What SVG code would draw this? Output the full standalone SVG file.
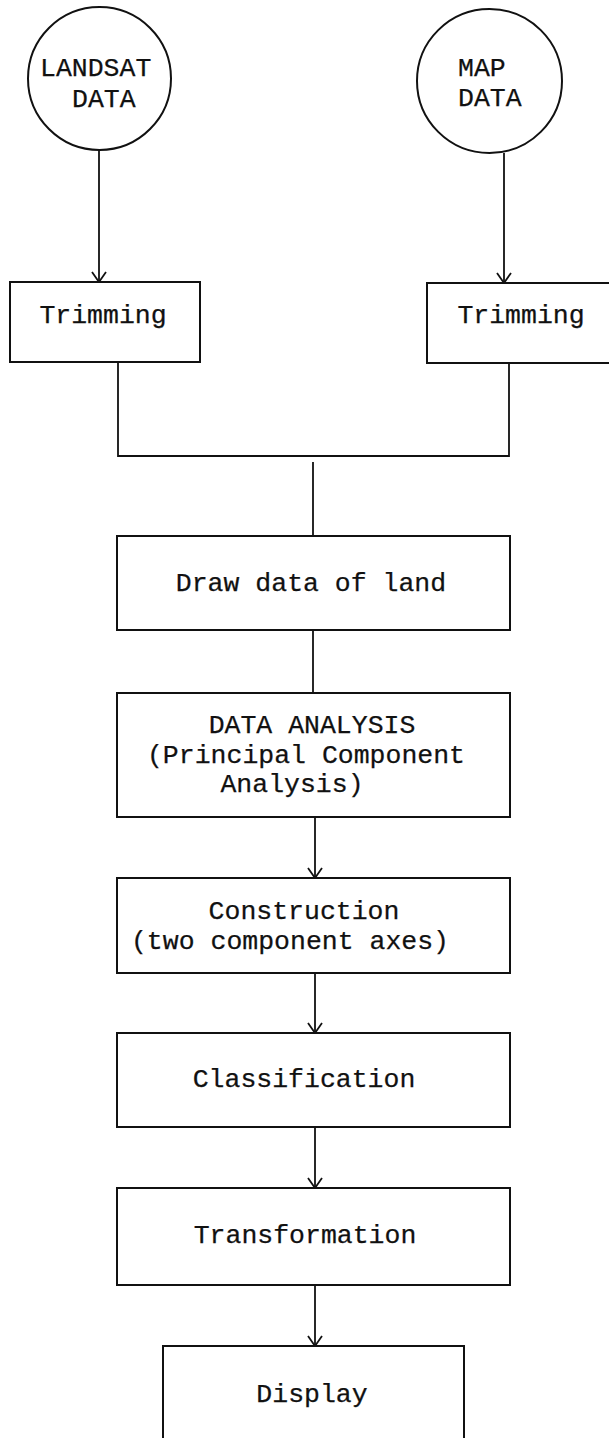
<svg xmlns="http://www.w3.org/2000/svg" width="609" height="1438" viewBox="0 0 609 1438">
  <style>
    .shape { fill: #fff; stroke: #111; stroke-width: 2; }
    .wire { fill: none; stroke: #111; stroke-width: 1.8; }
    .label { font-family: "Liberation Mono", "Courier New", monospace; font-size: 26.5px; fill: #111; stroke: #111; stroke-width: 0.25; text-anchor: middle; }
    .left { text-anchor: start; }
  </style>
  <defs>
    <!-- open V arrowhead; drawn along +x so orient="auto" points it down the line -->
    <marker id="arrow" viewBox="0 0 12 16" refX="11" refY="8" markerWidth="12" markerHeight="16" markerUnits="userSpaceOnUse" orient="auto">
      <path d="M1,1 L11,8 L1,15" fill="none" stroke="#111" stroke-width="1.8"/>
    </marker>
  </defs>
  <rect width="609" height="1438" fill="#fff"/>

  <!-- connectors -->
  <g id="connectors">
    <line class="wire" x1="99" y1="150" x2="99" y2="282" marker-end="url(#arrow)"/>
    <line class="wire" x1="504" y1="153" x2="504" y2="283" marker-end="url(#arrow)"/>
    <polyline class="wire" points="118,362 118,456 509,456 509,363"/>
    <line class="wire" x1="313" y1="462" x2="313" y2="536"/>
    <line class="wire" x1="313" y1="630" x2="313" y2="693"/>
    <line class="wire" x1="315" y1="817" x2="315" y2="878" marker-end="url(#arrow)"/>
    <line class="wire" x1="315" y1="973" x2="315" y2="1033" marker-end="url(#arrow)"/>
    <line class="wire" x1="315" y1="1127" x2="315" y2="1188" marker-end="url(#arrow)"/>
    <line class="wire" x1="315" y1="1285" x2="315" y2="1346" marker-end="url(#arrow)"/>
  </g>

  <g id="landsat-data">
    <ellipse class="shape" cx="99.5" cy="78.5" rx="71.5" ry="71.5"/>
    <text class="label left" x="40" y="76">LANDSAT</text>
    <text class="label left" x="72" y="107">DATA</text>
  </g>

  <g id="map-data">
    <ellipse class="shape" cx="489.5" cy="81" rx="72.5" ry="72"/>
    <text class="label left" x="458" y="76">MAP</text>
    <text class="label left" x="458" y="106">DATA</text>
  </g>

  <g id="trimming-landsat">
    <rect class="shape" x="10" y="282" width="190" height="80"/>
    <text class="label" x="103" y="323">Trimming</text>
  </g>

  <g id="trimming-map">
    <rect class="shape" x="427" y="283" width="190" height="80"/>
    <text class="label" x="521" y="323">Trimming</text>
  </g>

  <g id="draw-data">
    <rect class="shape" x="117" y="536" width="393" height="94"/>
    <text class="label" x="311" y="591">Draw data of land</text>
  </g>

  <g id="data-analysis">
    <rect class="shape" x="117" y="693" width="393" height="124"/>
    <text class="label" x="312" y="733">DATA ANALYSIS</text>
    <text class="label" x="306" y="763">(Principal Component</text>
    <text class="label" x="292" y="792">Analysis)</text>
  </g>

  <g id="construction">
    <rect class="shape" x="117" y="878" width="393" height="95"/>
    <text class="label" x="304" y="919">Construction</text>
    <text class="label" x="290" y="949">(two component axes)</text>
  </g>

  <g id="classification">
    <rect class="shape" x="117" y="1033" width="393" height="94"/>
    <text class="label" x="304" y="1087">Classification</text>
  </g>

  <g id="transformation">
    <rect class="shape" x="117" y="1188" width="393" height="97"/>
    <text class="label" x="305" y="1243">Transformation</text>
  </g>

  <g id="display">
    <rect class="shape" x="163" y="1346" width="301" height="110"/>
    <text class="label" x="312" y="1402">Display</text>
  </g>
</svg>
